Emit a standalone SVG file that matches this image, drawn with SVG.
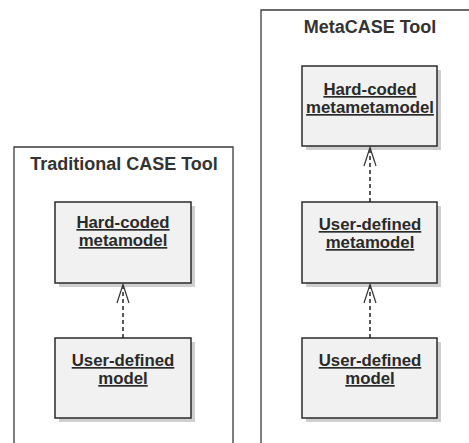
<svg xmlns="http://www.w3.org/2000/svg" width="469" height="443" viewBox="0 0 469 443">
<defs>
<style>
.frame{fill:#fff;stroke:#3a3a3a;stroke-width:1.3}
.title{font-family:"Liberation Sans",Arial,sans-serif;font-weight:bold;font-size:18px;fill:#333;text-anchor:middle}
.shadow{fill:#cfcfcf}
.box{fill:#f1f1f1;stroke:#2a2a2a;stroke-width:1.5}
.lbl{font-family:"Liberation Sans",Arial,sans-serif;font-weight:bold;font-size:16.8px;fill:#2a2a2a;text-anchor:middle;text-decoration:underline}
.dep{stroke:#222;stroke-width:1.5;stroke-dasharray:4 3;fill:none}
.head{stroke:#333;stroke-width:1.2;fill:none}
</style>
</defs>
<rect width="469" height="443" fill="#fff"/>
<g id="frame-traditional">
<path class="frame" d="M14,446 V147 H233 V446"/>
<text class="title" x="124" y="170">Traditional CASE Tool</text>
</g>
<g id="frame-metacase">
<path class="frame" d="M261,446 V10 H472"/>
<text class="title" x="370" y="33">MetaCASE Tool</text>
</g>
<g id="node-hc-metamodel">
<rect class="shadow" x="59" y="206" width="136" height="81"/>
<rect class="box" x="55" y="202" width="136" height="81"/>
<text class="lbl" x="123" y="228">Hard-coded</text>
<text class="lbl" x="123" y="246">metamodel</text>
</g>
<g id="node-ud-model-left">
<rect class="shadow" x="59" y="342" width="136" height="80"/>
<rect class="box" x="55" y="338" width="136" height="80"/>
<text class="lbl" x="123" y="366">User-defined</text>
<text class="lbl" x="123" y="384">model</text>
</g>
<g id="node-hc-metametamodel">
<rect class="shadow" x="306" y="70" width="135" height="80"/>
<rect class="box" x="302" y="66" width="135" height="80"/>
<text class="lbl" x="370" y="95">Hard-coded</text>
<text class="lbl" x="370" y="113">metametamodel</text>
</g>
<g id="node-ud-metamodel">
<rect class="shadow" x="306" y="206" width="135" height="81"/>
<rect class="box" x="302" y="202" width="135" height="81"/>
<text class="lbl" x="370" y="230">User-defined</text>
<text class="lbl" x="370" y="248">metamodel</text>
</g>
<g id="node-ud-model-right">
<rect class="shadow" x="306" y="342" width="135" height="80"/>
<rect class="box" x="302" y="338" width="135" height="80"/>
<text class="lbl" x="370" y="366">User-defined</text>
<text class="lbl" x="370" y="384">model</text>
</g>
<g id="connectors">
<line class="dep" x1="123" y1="338" x2="123" y2="285"/>
<path class="head" d="M117,303 L123,284.5 L129,303"/>
<line class="dep" x1="370" y1="202" x2="370" y2="148"/>
<path class="head" d="M364,166 L370,147.5 L376,166"/>
<line class="dep" x1="370" y1="338" x2="370" y2="285"/>
<path class="head" d="M364,303 L370,284.5 L376,303"/>
</g>
</svg>
